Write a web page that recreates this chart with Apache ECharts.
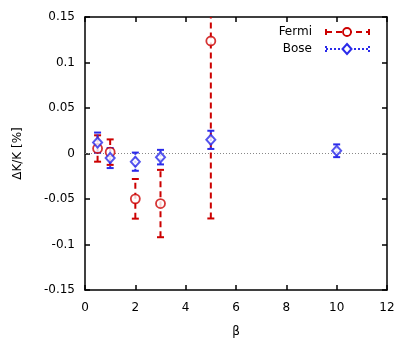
<!DOCTYPE html>
<html>
<head>
<meta charset="utf-8" />
<title>dK/K vs beta</title>
<script src="https://cdn.jsdelivr.net/npm/echarts@6/dist/echarts.min.js"></script>
<style>
  html, body { margin: 0; padding: 0; background: #fff; }
  #main { width: 415px; height: 344px; }
</style>
</head>
<body>
<div id="main"></div>
<script>
// data
var fermiX = [0.5, 1, 2, 3, 5];
var fermiY = [0.0055, 0.0015, -0.0498, -0.055, 0.1236];
var fermiErr = [0.0145, 0.014, 0.0218, 0.037, 0.195];

var boseX = [0.5, 1, 2, 3, 5, 10];
var boseY = [0.012, -0.005, -0.009, -0.004, 0.015, 0.003];
var boseErr = [0.011, 0.011, 0.010, 0.008, 0.010, 0.007];

var xTicks = [0, 2, 4, 6, 8, 10, 12];
var yTicks = [-0.15, -0.1, -0.05, 0, 0.05, 0.1, 0.15];

var RED = '#cc0000';
var BLUE = '#2b2bea';
var FONT = 'DejaVu Sans';

function pts(xs, ys) {
  return xs.map(function (x, i) { return [x, ys[i]]; });
}
function errData(xs, ys, es) {
  return xs.map(function (x, i) { return [x, ys[i] - es[i], ys[i] + es[i]]; });
}

function errRender(color, dash, capW) {
  return function (params, api) {
    var lo = api.coord([api.value(0), api.value(1)]);
    var hi = api.coord([api.value(0), api.value(2)]);
    var st = { stroke: color, lineWidth: 2, lineDash: dash };
    var cs = { stroke: color, lineWidth: 2 };
    return {
      type: 'group',
      children: [
        { type: 'line', shape: { x1: lo[0], y1: lo[1], x2: hi[0], y2: hi[1] }, style: st },
        { type: 'line', shape: { x1: lo[0] - capW, y1: lo[1], x2: lo[0] + capW, y2: lo[1] }, style: cs },
        { type: 'line', shape: { x1: hi[0] - capW, y1: hi[1], x2: hi[0] + capW, y2: hi[1] }, style: cs }
      ]
    };
  };
}

var chart = echarts.init(document.getElementById('main'));

var axisLine = { show: true, onZero: false, lineStyle: { color: '#000', width: 1.5 } };
var axisTick = { show: true, inside: true, length: 5, lineStyle: { color: '#000', width: 1.5 } };

chart.setOption({
  animation: false,
  textStyle: { fontFamily: FONT },
  grid: { left: 85, right: 28, top: 17, bottom: 54 },
  xAxis: [{
    type: 'value', min: 0, max: 12, interval: 2,
    name: 'β', nameLocation: 'middle', nameGap: 36,
    nameTextStyle: { color: '#000', fontSize: 12, fontFamily: FONT },
    axisLine: axisLine, axisTick: axisTick, splitLine: { show: false },
    axisLabel: { color: '#000', fontSize: 12, margin: 12, fontFamily: FONT,
      formatter: function (v) { return xTicks.indexOf(v) >= 0 ? String(v) : ''; } }
  }, {
    type: 'value', position: 'top', min: 0, max: 12, interval: 2,
    axisLine: axisLine, axisTick: axisTick, axisLabel: { show: false }, splitLine: { show: false }
  }],
  yAxis: [{
    type: 'value', min: -0.15, max: 0.15, interval: 0.05,
    name: 'ΔK/K [%]', nameLocation: 'middle', nameGap: 61,
    nameTextStyle: { color: '#000', fontSize: 12, fontFamily: FONT },
    axisLine: axisLine, axisTick: axisTick, splitLine: { show: false },
    axisLabel: { color: '#000', fontSize: 12, margin: 10, fontFamily: FONT,
      formatter: function (v) {
        var r = Math.round(v * 100) / 100;
        for (var i = 0; i < yTicks.length; i++) {
          if (Math.abs(yTicks[i] - r) < 1e-9) return String(yTicks[i]);
        }
        return '';
      } }
  }, {
    type: 'value', position: 'right', min: -0.15, max: 0.15, interval: 0.05,
    axisLine: axisLine, axisTick: axisTick, axisLabel: { show: false }, splitLine: { show: false }
  }],
  series: [{
    name: 'zero', type: 'line', data: [[0, 0], [12, 0]], symbol: 'none', silent: true,
    lineStyle: { color: '#888', width: 1, type: [1, 2] }, z: 1
  }, {
    name: 'Fermi err', type: 'custom', clip: true,
    renderItem: errRender(RED, [6, 4], 3.5),
    encode: { x: 0, y: [1, 2] },
    data: errData(fermiX, fermiY, fermiErr), z: 3
  }, {
    name: 'Bose err', type: 'custom', clip: true,
    renderItem: errRender(BLUE, [2, 2], 3.5),
    encode: { x: 0, y: [1, 2] },
    data: errData(boseX, boseY, boseErr), z: 4
  }, {
    name: 'Fermi', type: 'scatter', data: pts(fermiX, fermiY),
    symbol: 'circle', symbolSize: 9,
    itemStyle: { color: '#fff', borderColor: RED, borderWidth: 1.8 }, z: 5
  }, {
    name: 'Bose', type: 'scatter', data: pts(boseX, boseY),
    symbol: 'diamond', symbolSize: [9, 10],
    itemStyle: { color: '#fff', borderColor: BLUE, borderWidth: 2 }, z: 6
  }],
  graphic: [
    { type: 'text', right: 103, top: 26, style: { text: 'Fermi', fill: '#000', font: '12px "DejaVu Sans"', textAlign: 'right' } },
    { type: 'text', right: 103, top: 43, style: { text: 'Bose', fill: '#000', font: '12px "DejaVu Sans"', textAlign: 'right' } },
    { type: 'line', shape: { x1: 326, y1: 32, x2: 369, y2: 32 }, style: { stroke: RED, lineWidth: 2, lineDash: [6, 4] } },
    { type: 'line', shape: { x1: 326, y1: 29, x2: 326, y2: 35 }, style: { stroke: RED, lineWidth: 2 } },
    { type: 'line', shape: { x1: 369, y1: 29, x2: 369, y2: 35 }, style: { stroke: RED, lineWidth: 2 } },
    { type: 'circle', shape: { cx: 347, cy: 32, r: 4 }, style: { fill: '#fff', stroke: RED, lineWidth: 1.8 } },
    { type: 'line', shape: { x1: 326, y1: 49, x2: 369, y2: 49 }, style: { stroke: BLUE, lineWidth: 2, lineDash: [2, 2] } },
    { type: 'line', shape: { x1: 326, y1: 46, x2: 326, y2: 52 }, style: { stroke: BLUE, lineWidth: 2, lineDash: [2, 2] } },
    { type: 'line', shape: { x1: 369, y1: 46, x2: 369, y2: 52 }, style: { stroke: BLUE, lineWidth: 2, lineDash: [2, 2] } },
    { type: 'polygon', shape: { points: [[347, 44], [351.5, 49], [347, 54], [342.5, 49]] }, style: { fill: '#fff', stroke: BLUE, lineWidth: 2 } }
  ]
});

window.onresize = function () { chart.resize(); };
</script>
</body>
</html>
